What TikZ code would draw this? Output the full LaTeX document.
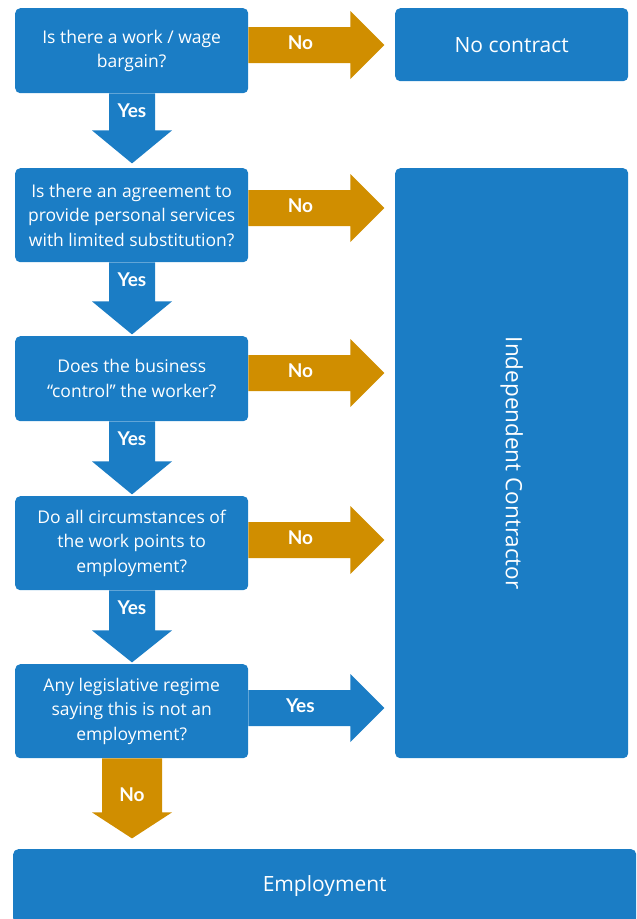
\documentclass[tikz,border=0pt]{standalone}
\usepackage{fontspec}
\setmainfont{Open Sans}
\newfontfamily\lblfont{Lato}
\usetikzlibrary{calc}
\definecolor{fblue}{RGB}{27,125,197}
\definecolor{forange}{RGB}{208,142,0}
\tikzset{
  box/.style={fill=fblue, rounded corners=5pt, text=white, align=center, inner sep=0pt, anchor=north west,
    font=\fontsize{17.5}{24.5}\selectfont},
  lbl/.style={text=white, font=\lblfont\fontsize{19}{20}\selectfont\bfseries, inner sep=0pt},
}
% right block arrow: #1 colour, #2 start coordinate, #3 label, #4 name
\newcommand\rblock[4]{%
  \fill[#1] (#2) ++(0,-18) -- ++(102,0) -- ++(0,-16) -- ++(34,34) coordinate (#4) -- ++(-34,34) -- ++(0,-16) -- ++(-102,0) -- cycle;
  \node[lbl] at ($(#2)+(52,-2)$) {#3};}
% down block arrow: #1 colour, #2 start (top centre), #3 label, #4 shaft length, #5 head length, #6 half shaft width
\newcommand\dblock[6]{%
  \fill[#1] (#2) ++(-#6,0) -- ++(0,#4) -- ++(-40+#6,0) -- ++(40,#5) -- ++(40,-#5) -- ++(-40+#6,0) -- ++(0,-#4) -- cycle;
  \node[lbl] at ($(#2)+(0,17)$) {#3};}
\begin{document}
\begin{tikzpicture}[x=1pt,y=-1pt]
\useasboundingbox (0,0) rectangle (637,919);
\node[box, minimum width=233pt, minimum height=85pt] (q1) at (15,8) {Is there a work / wage\\bargain?};
\node[box, minimum width=233pt, minimum height=94pt] (q2) at (15,168) {Is there an agreement to\\provide personal services\\with limited substitution?};
\node[box, minimum width=233pt, minimum height=85pt] (q3) at (15,336) {Does the business\\“control” the worker?};
\node[box, minimum width=233pt, minimum height=94pt] (q4) at (15,496) {Do all circumstances of\\the work points to\\employment?};
\node[box, minimum width=233pt, minimum height=94pt] (q5) at (15,664) {Any legislative regime\\saying this is not an\\employment?};
\node[box, minimum width=233pt, minimum height=73pt, font=\fontsize{21}{24}\selectfont] (nc) at (395,8) {No contract};
\node[box, minimum width=233pt, minimum height=590pt] (ic) at (395,168) {};
\node[text=white, rotate=-90, font=\fontsize{22.5}{24}\selectfont, inner sep=0pt] at (ic.center) {Independent Contractor};
\node[box, minimum width=623pt, minimum height=74pt, font=\fontsize{21}{24}\selectfont] (emp) at (13,849) {Employment};
\coordinate (a1) at (q1.east |- 0,45);
\coordinate (a2) at (q2.east |- 0,208);
\coordinate (a3) at (q3.east |- 0,373);
\coordinate (a4) at (q4.east |- 0,540);
\coordinate (a5) at (q5.east |- 0,708);
\rblock{forange}{a1}{No}{t1}
\rblock{forange}{a2}{No}{t2}
\rblock{forange}{a3}{No}{t3}
\rblock{forange}{a4}{No}{t4}
\rblock{fblue}{a5}{Yes}{t5}
\coordinate (d1) at (132,93);
\coordinate (d2) at (132,262);
\coordinate (d3) at (132,421);
\coordinate (d4) at (132,590);
\coordinate (d5) at (132,758);
\dblock{fblue}{q1.south -| d1}{Yes}{37}{33}{23}
\dblock{fblue}{q2.south -| d2}{Yes}{39}{33}{23}
\dblock{fblue}{q3.south -| d3}{Yes}{40}{33}{23}
\dblock{fblue}{q4.south -| d4}{Yes}{40}{32}{23}
\fill[forange] (q5.south -| d5) ++(-30,0) -- ++(0,54) -- ++(-10,0) -- ++(40,26) -- ++(40,-26) -- ++(-10,0) -- ++(0,-54) -- cycle;
\node[lbl] at ($(d5)+(0,37)$) {No};
\end{tikzpicture}
\end{document}
